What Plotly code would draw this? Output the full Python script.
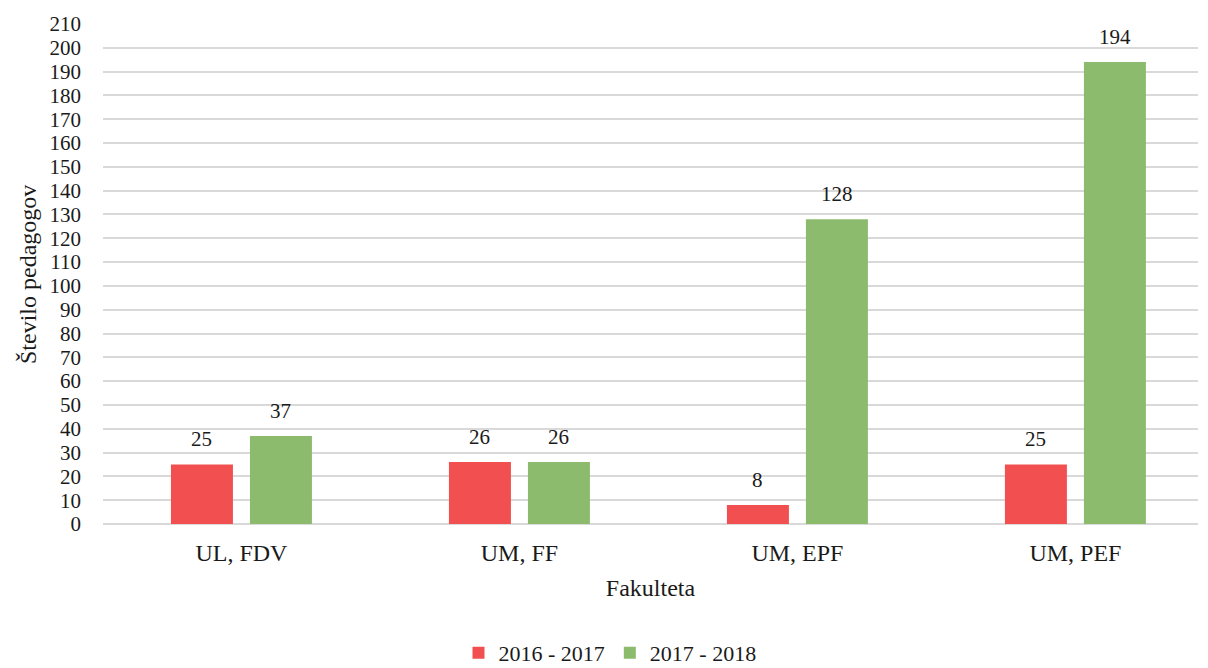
import plotly.graph_objects as go

categories = ["UL, FDV", "UM, FF", "UM, EPF", "UM, PEF"]
series_2016 = [25, 26, 8, 25]
series_2017 = [37, 26, 128, 194]
series_names = ["2016 - 2017", "2017 - 2018"]
y_ticks = list(range(0, 211, 10))

FONT = "Liberation Serif"
red = "#f25050"
green = "#8cbb6e"
txt = "#1a1a1a"

fig = go.Figure()
series = [(series_names[0], series_2016, red, -39.5), (series_names[1], series_2017, green, 39.5)]
for name, vals, col, dx in series:
    fig.add_trace(go.Bar(x=categories, y=vals, name=name, marker=dict(color=col, line=dict(width=0))))
    for c, v in zip(categories, vals):
        fig.add_annotation(x=c, y=v, text=str(v), showarrow=False, xshift=dx, yshift=11,
                           yanchor="bottom", font=dict(family=FONT, size=21, color=txt))

# y-axis title as a rotated annotation
fig.add_annotation(x=-0.0685, y=0.5, xref="paper", yref="paper", text="Število pedagogov",
                   textangle=-90, showarrow=False, xanchor="center", yanchor="middle",
                   font=dict(family=FONT, size=24, color=txt))

fig.update_layout(
    width=1208, height=668,
    margin=dict(l=103, r=10, t=24, b=144, autoexpand=False),
    paper_bgcolor="white", plot_bgcolor="white",
    barmode="group", bargap=0.4317, bargroupgap=0.2152,
    font=dict(family=FONT, size=21, color=txt),
    showlegend=True,
    legend=dict(orientation="h", x=0.463, xanchor="center", y=-0.258, yanchor="middle",
                font=dict(family=FONT, size=22, color=txt), itemwidth=30,
                traceorder="normal"),
)
fig.update_xaxes(
    type="category", range=[-0.498, 3.441], automargin=False,
    showgrid=False, showline=False, zeroline=False,
    ticks="", ticklabelstandoff=12,
    tickfont=dict(family=FONT, size=24, color=txt),
    title=dict(text="Fakulteta", standoff=14, font=dict(family=FONT, size=24, color=txt)),
)
fig.update_yaxes(
    range=[0, 210], tickvals=y_ticks, automargin=False,
    showgrid=True, gridcolor="#d9d9d9", gridwidth=2,
    zeroline=True, zerolinecolor="#d9d9d9", zerolinewidth=2,
    showline=False, ticks="", ticklabelstandoff=21,
    tickfont=dict(family=FONT, size=21, color=txt),
)

fig.write_html("out.html", config={"displayModeBar": False},
               post_script="document.body.style.margin='0';")
